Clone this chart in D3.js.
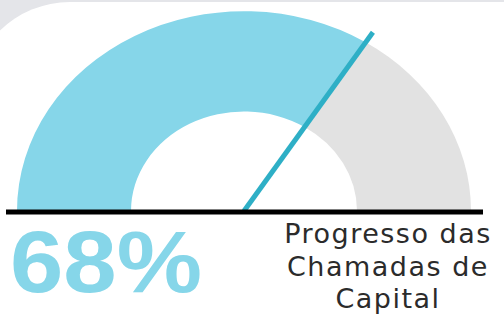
<!DOCTYPE html>
<html>
<head>
<meta charset="utf-8">
<script src="https://cdn.jsdelivr.net/npm/d3@7"></script>
<style>
  html, body { margin: 0; padding: 0; background: #fff; }
  svg { display: block; }
</style>
</head>
<body>
<svg id="chart" width="504" height="319"></svg>
<script>
// gauge data
const progress = [68];          // percent of capital called
const gaugeDomain = [0, 100];
const valueLabels = ["68%"];
const titleLines = ["Progresso das", "Chamadas de", "Capital"];

const W = 504, H = 319;
const cx = 244, cy = 211;       // gauge centre on the base line
const outerR = 227, innerR = 113;
const squash = 0.88;            // the picture is a bit flattened vertically

const svg = d3.select("#chart");

// grey backdrop with the white card on top
svg.append("rect").attr("width", W).attr("height", H).attr("fill", "#e4e5e9");
svg.append("rect")
    .attr("x", -30).attr("y", 2)
    .attr("width", W + 200).attr("height", H + 200)
    .attr("rx", 100)
    .attr("fill", "#fff");

const angle = d3.scaleLinear().domain(gaugeDomain).range([-Math.PI / 2, Math.PI / 2]);
const arc = d3.arc().innerRadius(innerR).outerRadius(outerR);

const g = svg.append("g").attr("transform", `translate(${cx},${cy}) scale(1,${squash})`);

// remaining part first, then the filled part
g.append("path")
    .attr("d", arc({startAngle: angle(progress[0]), endAngle: angle(gaugeDomain[1])}))
    .attr("fill", "#e2e2e2");
g.append("path")
    .attr("d", arc({startAngle: angle(gaugeDomain[0]), endAngle: angle(progress[0])}))
    .attr("fill", "#86d6e9");

// needle, drawn outside the squashed group so the stroke keeps its width
const a = angle(progress[0]);
const needleR = outerR * 1.06;
svg.append("line")
    .attr("x1", cx).attr("y1", cy)
    .attr("x2", cx + needleR * Math.sin(a))
    .attr("y2", cy - needleR * Math.cos(a) * squash)
    .attr("stroke", "#2eafc6")
    .attr("stroke-width", 5);

// base line
svg.append("line")
    .attr("x1", 6).attr("x2", 483)
    .attr("y1", 212).attr("y2", 212)
    .attr("stroke", "#000")
    .attr("stroke-width", 5);

// big value
svg.append("text")
    .attr("x", 10).attr("y", 292)
    .attr("font-family", "Liberation Sans, Arial, sans-serif")
    .attr("font-weight", "bold")
    .attr("font-size", 87)
    .attr("textLength", 192)
    .attr("lengthAdjust", "spacingAndGlyphs")
    .attr("fill", "#86d6e9")
    .text(valueLabels[0]);

// title
svg.append("text")
    .attr("font-family", "DejaVu Sans, Verdana, sans-serif")
    .attr("font-size", 27)
    .attr("letter-spacing", "1.5px")
    .attr("fill", "#2b2b2b")
    .attr("text-anchor", "middle")
    .selectAll("tspan")
    .data(titleLines)
    .join("tspan")
      .attr("x", 388)
      .attr("y", (d, i) => 243 + i * 32.5)
      .text(d => d);
</script>
</body>
</html>
